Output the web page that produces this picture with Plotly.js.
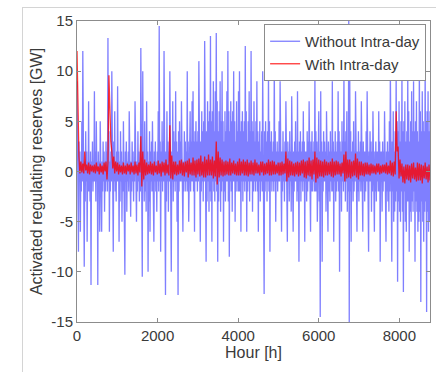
<!DOCTYPE html>
<html>
<head>
<meta charset="utf-8">
<script src="https://cdn.plot.ly/plotly-3.0.1.min.js"></script>
<style>
  html, body { margin: 0; padding: 0; background: #fff; }
  #wrap { position: relative; width: 436px; height: 372px; }
  #chart { width: 436px; height: 372px; }
  #frame { position: absolute; left: 22px; top: 7px; width: 414px; height: 365px;
           border-top: 1px solid #d4d4d4; border-left: 1px solid #d4d4d4; pointer-events: none; }
</style>
</head>
<body>
<div id="wrap"><div id="chart"></div><div id="frame"></div></div>
<script>
const stepWithout = 12;
const stepWith = 24;

const withoutIntraday = [
  9, -2, 1, -8, 3, -1, 2, -6, 1, -2, 5, -1,
  12, -1, 2, -9.5, 1, -3, 4, -1, 2, -7, 1, -2,
  7, -2, 1, -3, 2, -11.3, 1, -1, 3, -2, 1, -1,
  8, -1, 2, -3, 5, -1, 1, -11.3, 2, -2, 1, -6,
  5, -1, 2, -6, 1, -2, 3, -1, 2, -4, 1, -2,
  3, -1, 2, -2, 13.3, -1, 4, -6, 1, -2, 2, -1,
  10, -2, 1, -8, 3, -1, 6, -2, 1, -3, 2, -1,
  8.5, -1, 2, -7, 1, -3, 4, -1, 2, -5, 1, -2,
  5, -2, 1, -10.3, 2, -1, 3, -4, 1, -1, 2, -2,
  6, -1, 2, -4.5, 1, -2, 3, -1, 2, -3, 1, -1,
  7, -1, 2, -5, 1, -2, 4, -1, 2, -3, 1, -2,
  12.3, -2, 3, -10.5, 10, -1, 2, -3, 5, -2, 1, -4,
  7, -1, 2, -10, 1, -3, 4, -6, 2, -1, 3, -2,
  5, -2, 1, -7, 2, -1, 3, -2, 1, -4, 2, -1,
  6, -2, 14.5, -1, 3, -8, 2, -1, 5, -2, 3, -1,
  12, -1, 4, -12.3, 2, -3, 6, -1, 3, -4, 2, -1,
  10, -2, 3, -10, 2, -1, 7, -3, 4, -1, 3, -2,
  8, -1, 3, -5, 2, -12.3, 4, -2, 5, -1, 3, -1,
  7, -1, 2, -6, 1, -2, 4, -1, 3, -2, 2, -1,
  10, -2, 3, -5, 2, -1, 6, -2, 3, -1, 7, -1,
  8, -2, 3, -6, 4, -1, 5, -1, 3, -2, 4, -1,
  11, -1, 5, -7, 3, -2, 6, -1, 4, -3, 5, -1,
  13, -2, 6, -9, 4, -3, 7, -1, 5, -4, 6, -2,
  13.5, -3, 5, -7, 6, -1, 9, -2, 4, -3, 8, -1,
  13.8, -2, 7, -9, 4, -3, 6, -1, 9, -4, 5, -2,
  10, -1, 5, -7, 3, -2, 6, -3, 4, -1, 8, -1,
  12, -3, 6, -8.5, 4, -1, 7, -2, 5, -4, 6, -1,
  10, -1, 5, -5, 3, -2, 7, -1, 4, -2, 8, -2,
  10, -2, 4, -6, 5, -1, 6, -3, 4, -1, 5, -2,
  12.5, -1, 6, -6, 3, -2, 5, -1, 8, -3, 4, -1,
  12, -1, 5, -4, 4, -2, 7, -1, 3, -2, 5, -1,
  9, -2, 4, -6, 3, -1, 5, -3, 2, -1, 4, -2,
  10, -1, 3, -12.2, 4, -2, 5, -1, 3, -3, 4, -1,
  10, -2, 5, -8, 3, -1, 4, -2, 2, -1, 3, -2,
  11, -1, 4, -5, 2, -1, 3, -2, 2, -1, 5, -1,
  9, -1, 3, -6, 2, -2, 4, -1, 2, -3, 3, -1,
  7, -2, 2, -7, 3, -1, 2, -3, 4, -1, 2, -4,
  7.5, -1, 3, -6, 2, -2, 3, -1, 5, -1, 2, -3,
  8, -2, 2, -9, 3, -1, 4, -3, 2, -1, 3, -2,
  6, -1, 3, -7, 2, -1, 2, -3, 4, -2, 3, -1,
  7, -1, 2, -6, 3, -2, 4, -2, 2, -1, 3, -2,
  10, -2, 4, -2, 3, -5, 2, -1, 6, -3, 2, -14.5,
  8, -1, 3, -9, 2, -2, 4, -1, 3, -1, 2, -4,
  6, -1, 2, -6, 3, -2, 2, -3, 4, -1, 2, -2,
  9, -2, 3, -7, 2, -1, 4, -3, 2, -2, 3, -1,
  8, -2, 4, -10, 3, -1, 2, -4, 5, -1, 3, -2,
  10, -1, 3, -3, 4, -1, 6, -4, 2, -2, 15.5, -15.5,
  10, -2, 4, -7, 2, -1, 3, -3, 5, -2, 2, -1,
  8, -1, 3, -6, 2, -2, 4, -3, 2, -1, 3, -2,
  7, -2, 2, -6, 3, -1, 2, -3, 2, -2, 4, -1,
  8, -2, 3, -8, 2, -1, 4, -1, 3, -4, 2, -2,
  6, -1, 2, -6, 2, -2, 3, -3, 2, -1, 2, -2,
  6, -2, 3, -9, 2, -1, 2, -4, 3, -2, 2, -1,
  6, -1, 2, -7, 2, -2, 3, -3, 2, -4, 5, -2,
  10, -3, 4, -9, 3, -2, 6, -5, 2, -4, 4, -3,
  10, -2, 5, -11, 4, -3, 7, -4, 3, -5, 5, -2,
  10, -4, 4, -12, 5, -2, 7, -5, 3, -6, 4, -3,
  10, -3, 6, -8, 3, -4, 5, -5, 8, -3, 4, -4,
  9, -2, 4, -9, 5, -3, 7, -4, 4, -6, 3, -5,
  11, -4, 6, -13, 4, -3, 8, -5, 5, -7, 4, -4,
  11, -3, 5, -14, 6, -4, 8, -6, 4, -5, 6, -3
];

const withIntraday = [
  12, 6, 1.5, -0.2, 1.0, -0.1,
  0.8, -0.2, 2.0, 0.1, 0.7, -0.2,
  0.9, -0.3, 0.7, 0.0, 0.6, -0.1,
  0.7, -0.2, 0.9, 0.0, 0.5, -0.3,
  0.8, -0.1, 0.6, -0.3, 0.9, 0.0,
  1.0, -0.8, 0.9, 9.6, 5, 3,
  2, 0.3, 1.5, -0.2, 1.0, 0.0,
  0.9, -0.3, 0.7, -0.1, 0.6, -0.3,
  0.9, -0.2, 0.6, -0.3, 0.8, 0.0,
  0.7, -0.3, 0.9, -0.1, 0.6, -0.3,
  1.0, -0.2, 0.7, -0.4, 0.9, -0.1,
  3.5, -1.5, 2.0, -0.8, 1.2, -0.4,
  0.9, -0.3, 0.7, -0.2, 1.0, -0.3,
  0.8, -0.4, 1.0, -0.1, 0.6, -0.3,
  1.1, -0.2, 0.8, -0.5, 1.0, -0.1,
  0.9, -0.4, 1.2, -0.2, 0.7, -0.4,
  4.6, -0.7, 1.6, -0.8, 1.0, -0.3,
  1.0, -0.4, 0.7, -0.3, 1.1, -0.2,
  1.2, -0.4, 0.9, -0.5, 1.0, -0.1,
  1.1, -0.6, 1.3, -0.3, 0.9, -0.4,
  1.4, -0.4, 1.1, -0.6, 1.2, -0.3,
  1.3, -0.5, 1.6, -0.4, 1.0, -0.6,
  1.5, -0.6, 1.2, -0.4, 1.7, -0.4,
  1.2, -0.4, 1.5, -0.7, 1.1, -0.5,
  3.0, -1.3, 2.0, -0.6, 1.4, -0.4,
  1.2, -0.5, 1.0, -0.4, 1.1, -0.3,
  1.0, -0.4, 1.3, -0.4, 0.9, -0.2,
  1.1, -0.3, 0.8, -0.4, 1.0, -0.4,
  1.3, -0.4, 1.0, -0.2, 1.2, -0.4,
  1.0, -0.4, 1.2, -0.5, 0.9, -0.3,
  1.1, -0.3, 0.9, -0.4, 1.2, -0.2,
  0.9, -0.2, 0.7, -0.4, 1.0, -0.1,
  1.0, -0.4, 0.8, -0.3, 0.9, -0.2,
  1.2, -0.4, 1.0, -0.4, 1.1, -0.3,
  1.0, -0.3, 0.7, -0.2, 0.9, -0.4,
  0.9, -0.4, 1.0, -0.3, 0.8, -0.2,
  2.0, -1.0, 1.3, -0.6, 1.1, -0.4,
  1.0, -0.4, 0.8, -0.5, 0.9, -0.3,
  1.0, -0.5, 0.9, -0.4, 1.1, -0.2,
  1.2, -0.6, 1.0, -0.7, 1.1, -0.4,
  1.4, -0.5, 1.1, -0.8, 1.2, -0.3,
  2.0, -1.1, 1.4, -0.7, 1.2, -0.5,
  1.1, -0.5, 1.0, -0.6, 1.2, -0.4,
  1.0, -0.4, 0.9, -0.3, 1.0, -0.5,
  1.3, -0.6, 1.0, -0.4, 1.1, -0.3,
  1.0, -0.3, 0.8, -0.5, 0.9, -0.2,
  1.7, -1.0, 2.0, -0.7, 1.2, -0.6,
  1.2, -0.7, 1.0, -0.5, 1.1, -0.4,
  1.8, -0.6, 1.3, -0.8, 1.0, -0.4,
  1.0, -0.4, 0.8, -0.5, 0.9, -0.3,
  0.9, -0.3, 0.7, -0.4, 0.8, -0.2,
  0.7, -0.2, 0.6, -0.3, 0.8, -0.1,
  0.8, -0.3, 0.6, -0.2, 0.7, -0.1,
  0.7, -0.2, 0.9, -0.3, 0.6, -0.2,
  1.1, -0.4, 0.9, -0.5, 1.0, -0.3,
  6.0, 2.0, 2.5, -0.7, 1.2, -0.5,
  0.8, -1.1, 0.5, -1.2, 0.7, -0.8,
  0.7, -0.9, 0.6, -1.1, 0.8, -0.7,
  0.9, -0.8, 0.4, -1.0, 0.9, -0.9,
  0.8, -0.9, 0.7, -1.2, 0.6, -0.7,
  0.9, -0.8, 0.5, -1.1, 0.7, -0.9
];

const seriesNames = ['Without Intra-day', 'With Intra-day'];
const xTicks = [0, 2000, 4000, 6000, 8000];
const xRange = [0, 8760];
const yTicks = [-15, -10, -5, 0, 5, 10, 15];
const yTickLabels = ['-15', '-10', '-5', '0', '5', '10', '15'];
const yRange = [-15, 15];

const font = 'Liberation Sans, Arial, sans-serif';
const textColor = '#3a3a3a';

const traces = [
  {
    type: 'scatter', mode: 'lines', name: seriesNames[0],
    y: withoutIntraday, x0: 0, dx: stepWithout,
    line: { color: 'rgba(0,0,255,0.5)', width: 1.3 }
  },
  {
    type: 'scatter', mode: 'lines', name: seriesNames[1],
    y: withIntraday, x0: 0, dx: stepWith,
    line: { color: 'rgba(255,0,0,0.8)', width: 1.3 }
  }
];

const axisCommon = {
  showgrid: false, zeroline: false,
  showline: true, linecolor: '#8c8c8c', linewidth: 1, mirror: 'ticks',
  ticks: 'inside', ticklen: 4, tickcolor: '#8c8c8c',
  tickfont: { family: font, size: 15, color: textColor }
};

const layout = {
  width: 436, height: 372,
  margin: { l: 77, r: 6, t: 21, b: 50 },
  paper_bgcolor: '#fff', plot_bgcolor: '#fff',
  font: { family: font, color: textColor },
  showlegend: true,
  legend: {
    x: 0.989, y: 0.99, xanchor: 'right', yanchor: 'top',
    bgcolor: '#fff', bordercolor: '#8c8c8c', borderwidth: 1,
    font: { family: font, size: 15, color: textColor },
    itemwidth: 30, tracegroupgap: 0
  },
  xaxis: Object.assign({}, axisCommon, {
    range: xRange, tickvals: xTicks, ticktext: xTicks.map(String),
    title: { text: 'Hour [h]', font: { family: font, size: 16, color: textColor }, standoff: 2 }
  }),
  yaxis: Object.assign({}, axisCommon, {
    range: yRange, tickvals: yTicks, ticktext: yTickLabels,
    title: { text: 'Activated regulating reserves [GW]', font: { family: font, size: 16, color: textColor }, standoff: 4 }
  })
};

Plotly.newPlot('chart', traces, layout, { staticPlot: true, displayModeBar: false });
</script>
</body>
</html>
